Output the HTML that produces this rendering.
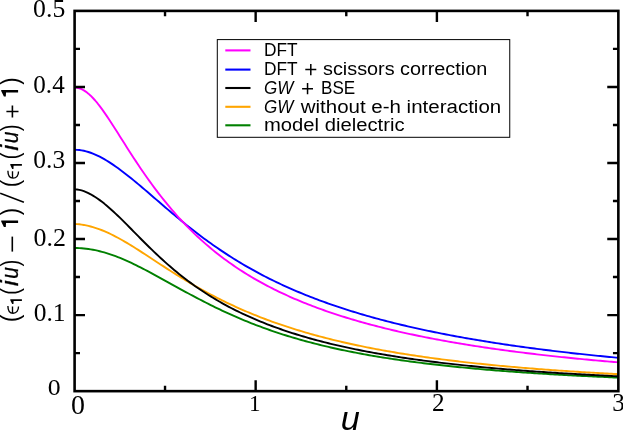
<!DOCTYPE html>
<html><head><meta charset="utf-8"><title>plot</title>
<style>
html,body{margin:0;padding:0;background:#fff;}
body{width:623px;height:431px;overflow:hidden;}
svg{display:block;}
.txt{filter:grayscale(1);}
.ser{font-family:"Liberation Serif",serif;fill:#000;}
.san{font-family:"Liberation Sans",sans-serif;fill:#000;}
</style></head><body>
<svg width="623" height="431" viewBox="0 0 623 431">
<rect x="0" y="0" width="623" height="431" fill="#fff"/>
<clipPath id="c"><rect x="74.6" y="10.9" width="543.75" height="380.25"/></clipPath>
<g clip-path="url(#c)" fill="none" stroke-width="1.9" stroke-linejoin="round">
<path d="M74.80,248.05 L77.06,248.07 L79.33,248.15 L81.59,248.29 L83.86,248.47 L86.12,248.71 L88.39,249.00 L90.66,249.35 L92.92,249.74 L95.19,250.18 L97.45,250.67 L99.72,251.21 L101.98,251.80 L104.25,252.43 L106.51,253.10 L108.78,253.82 L111.04,254.58 L113.31,255.37 L115.57,256.21 L117.84,257.08 L120.10,257.99 L122.37,258.93 L124.63,259.90 L126.90,260.90 L129.16,261.93 L131.43,262.98 L133.69,264.06 L135.96,265.16 L138.22,266.28 L140.49,267.42 L142.75,268.58 L145.01,269.76 L147.28,270.95 L149.55,272.15 L151.81,273.37 L154.07,274.59 L156.34,275.82 L158.61,277.06 L160.87,278.30 L163.14,279.55 L165.40,280.81 L167.67,282.06 L169.93,283.32 L172.19,284.57 L174.46,285.82 L176.73,287.07 L178.99,288.32 L181.25,289.57 L183.52,290.81 L185.79,292.04 L188.05,293.26 L190.32,294.48 L192.58,295.70 L194.85,296.90 L197.11,298.09 L199.38,299.28 L201.64,300.45 L203.91,301.62 L206.17,302.77 L208.44,303.92 L210.70,305.05 L212.97,306.17 L215.23,307.28 L217.50,308.37 L219.76,309.45 L222.03,310.52 L224.29,311.58 L226.56,312.63 L228.82,313.66 L231.09,314.68 L233.35,315.68 L235.62,316.68 L237.88,317.66 L240.15,318.62 L242.41,319.58 L244.68,320.52 L246.94,321.44 L249.21,322.36 L251.47,323.26 L253.74,324.14 L256.00,325.02 L258.26,325.88 L260.53,326.73 L262.80,327.57 L265.06,328.39 L267.32,329.20 L269.59,330.00 L271.86,330.79 L274.12,331.56 L276.39,332.33 L278.65,333.08 L280.92,333.82 L283.18,334.55 L285.45,335.26 L287.71,335.97 L289.98,336.66 L292.24,337.35 L294.51,338.02 L296.77,338.68 L299.04,339.34 L301.30,339.98 L303.57,340.61 L305.83,341.23 L308.10,341.84 L310.36,342.45 L312.62,343.04 L314.89,343.62 L317.16,344.20 L319.42,344.76 L321.69,345.32 L323.95,345.87 L326.22,346.40 L328.48,346.94 L330.75,347.46 L333.01,347.97 L335.28,348.48 L337.54,348.98 L339.81,349.47 L342.07,349.95 L344.34,350.42 L346.60,350.89 L348.87,351.35 L351.13,351.80 L353.40,352.25 L355.66,352.69 L357.93,353.12 L360.19,353.55 L362.46,353.97 L364.72,354.38 L366.99,354.79 L369.25,355.19 L371.52,355.58 L373.78,355.97 L376.05,356.35 L378.31,356.73 L380.58,357.10 L382.84,357.47 L385.11,357.83 L387.37,358.18 L389.64,358.53 L391.90,358.88 L394.17,359.22 L396.43,359.55 L398.70,359.88 L400.96,360.21 L403.23,360.52 L405.49,360.84 L407.76,361.15 L410.02,361.46 L412.29,361.76 L414.55,362.06 L416.82,362.35 L419.08,362.64 L421.35,362.92 L423.61,363.20 L425.88,363.48 L428.14,363.75 L430.41,364.02 L432.67,364.29 L434.94,364.55 L437.20,364.81 L439.47,365.06 L441.73,365.31 L444.00,365.56 L446.26,365.81 L448.53,366.05 L450.79,366.28 L453.06,366.52 L455.32,366.75 L457.59,366.98 L459.85,367.20 L462.12,367.42 L464.38,367.64 L466.65,367.86 L468.91,368.07 L471.18,368.28 L473.44,368.49 L475.71,368.70 L477.97,368.90 L480.24,369.10 L482.50,369.30 L484.77,369.49 L487.03,369.68 L489.30,369.87 L491.56,370.06 L493.83,370.24 L496.09,370.43 L498.36,370.61 L500.62,370.78 L502.89,370.96 L505.15,371.13 L507.42,371.30 L509.68,371.47 L511.95,371.64 L514.21,371.80 L516.48,371.97 L518.74,372.13 L521.01,372.29 L523.27,372.44 L525.54,372.60 L527.80,372.75 L530.07,372.90 L532.33,373.05 L534.60,373.20 L536.86,373.35 L539.12,373.49 L541.39,373.63 L543.66,373.78 L545.92,373.91 L548.19,374.05 L550.45,374.19 L552.72,374.32 L554.98,374.46 L557.25,374.59 L559.51,374.72 L561.77,374.84 L564.04,374.97 L566.31,375.10 L568.57,375.22 L570.84,375.34 L573.10,375.46 L575.37,375.58 L577.63,375.70 L579.90,375.82 L582.16,375.94 L584.43,376.05 L586.69,376.16 L588.96,376.28 L591.22,376.39 L593.49,376.50 L595.75,376.60 L598.01,376.71 L600.28,376.82 L602.55,376.92 L604.81,377.03 L607.08,377.13 L609.34,377.23 L611.61,377.33 L613.87,377.43 L616.14,377.53 L618.40,377.63" stroke="#008000"/>
<path d="M74.80,224.07 L77.06,224.13 L79.33,224.30 L81.59,224.58 L83.86,224.94 L86.12,225.39 L88.39,225.90 L90.66,226.47 L92.92,227.11 L95.19,227.81 L97.45,228.57 L99.72,229.38 L101.98,230.25 L104.25,231.17 L106.51,232.15 L108.78,233.18 L111.04,234.26 L113.31,235.38 L115.57,236.54 L117.84,237.75 L120.10,238.99 L122.37,240.26 L124.63,241.57 L126.90,242.91 L129.16,244.27 L131.43,245.65 L133.69,247.06 L135.96,248.48 L138.22,249.92 L140.49,251.37 L142.75,252.84 L145.01,254.31 L147.28,255.78 L149.55,257.27 L151.81,258.75 L154.07,260.24 L156.34,261.72 L158.61,263.20 L160.87,264.68 L163.14,266.15 L165.40,267.62 L167.67,269.08 L169.93,270.53 L172.19,271.98 L174.46,273.41 L176.73,274.83 L178.99,276.24 L181.25,277.64 L183.52,279.02 L185.79,280.39 L188.05,281.75 L190.32,283.09 L192.58,284.42 L194.85,285.74 L197.11,287.04 L199.38,288.32 L201.64,289.59 L203.91,290.84 L206.17,292.08 L208.44,293.30 L210.70,294.51 L212.97,295.70 L215.23,296.88 L217.50,298.04 L219.76,299.18 L222.03,300.31 L224.29,301.43 L226.56,302.53 L228.82,303.61 L231.09,304.68 L233.35,305.73 L235.62,306.77 L237.88,307.80 L240.15,308.81 L242.41,309.80 L244.68,310.78 L246.94,311.75 L249.21,312.70 L251.47,313.64 L253.74,314.57 L256.00,315.48 L258.26,316.38 L260.53,317.27 L262.80,318.14 L265.06,319.01 L267.32,319.85 L269.59,320.69 L271.86,321.52 L274.12,322.33 L276.39,323.13 L278.65,323.92 L280.92,324.70 L283.18,325.46 L285.45,326.22 L287.71,326.96 L289.98,327.70 L292.24,328.42 L294.51,329.14 L296.77,329.84 L299.04,330.53 L301.30,331.21 L303.57,331.89 L305.83,332.55 L308.10,333.20 L310.36,333.85 L312.62,334.48 L314.89,335.11 L317.16,335.73 L319.42,336.34 L321.69,336.94 L323.95,337.53 L326.22,338.11 L328.48,338.69 L330.75,339.25 L333.01,339.81 L335.28,340.36 L337.54,340.91 L339.81,341.44 L342.07,341.97 L344.34,342.49 L346.60,343.01 L348.87,343.51 L351.13,344.01 L353.40,344.51 L355.66,344.99 L357.93,345.47 L360.19,345.94 L362.46,346.41 L364.72,346.87 L366.99,347.32 L369.25,347.77 L371.52,348.21 L373.78,348.65 L376.05,349.08 L378.31,349.50 L380.58,349.92 L382.84,350.33 L385.11,350.74 L387.37,351.14 L389.64,351.54 L391.90,351.93 L394.17,352.31 L396.43,352.69 L398.70,353.07 L400.96,353.44 L403.23,353.80 L405.49,354.17 L407.76,354.52 L410.02,354.87 L412.29,355.22 L414.55,355.56 L416.82,355.90 L419.08,356.23 L421.35,356.56 L423.61,356.89 L425.88,357.21 L428.14,357.53 L430.41,357.84 L432.67,358.15 L434.94,358.45 L437.20,358.75 L439.47,359.05 L441.73,359.35 L444.00,359.64 L446.26,359.92 L448.53,360.20 L450.79,360.48 L453.06,360.76 L455.32,361.03 L457.59,361.30 L459.85,361.57 L462.12,361.83 L464.38,362.09 L466.65,362.34 L468.91,362.60 L471.18,362.85 L473.44,363.09 L475.71,363.34 L477.97,363.58 L480.24,363.81 L482.50,364.05 L484.77,364.28 L487.03,364.51 L489.30,364.74 L491.56,364.96 L493.83,365.18 L496.09,365.40 L498.36,365.62 L500.62,365.83 L502.89,366.04 L505.15,366.25 L507.42,366.46 L509.68,366.66 L511.95,366.86 L514.21,367.06 L516.48,367.26 L518.74,367.45 L521.01,367.64 L523.27,367.83 L525.54,368.02 L527.80,368.21 L530.07,368.39 L532.33,368.57 L534.60,368.75 L536.86,368.93 L539.12,369.11 L541.39,369.28 L543.66,369.45 L545.92,369.62 L548.19,369.79 L550.45,369.95 L552.72,370.12 L554.98,370.28 L557.25,370.44 L559.51,370.60 L561.77,370.76 L564.04,370.91 L566.31,371.07 L568.57,371.22 L570.84,371.37 L573.10,371.52 L575.37,371.66 L577.63,371.81 L579.90,371.95 L582.16,372.10 L584.43,372.24 L586.69,372.38 L588.96,372.52 L591.22,372.65 L593.49,372.79 L595.75,372.92 L598.01,373.05 L600.28,373.18 L602.55,373.31 L604.81,373.44 L607.08,373.57 L609.34,373.69 L611.61,373.82 L613.87,373.94 L616.14,374.06 L618.40,374.18" stroke="#ffa500"/>
<path d="M74.80,189.39 L77.06,189.51 L79.33,189.85 L81.59,190.40 L83.86,191.14 L86.12,192.05 L88.39,193.10 L90.66,194.29 L92.92,195.59 L95.19,197.01 L97.45,198.52 L99.72,200.13 L101.98,201.84 L104.25,203.62 L106.51,205.48 L108.78,207.42 L111.04,209.42 L113.31,211.47 L115.57,213.58 L117.84,215.74 L120.10,217.93 L122.37,220.16 L124.63,222.41 L126.90,224.68 L129.16,226.97 L131.43,229.27 L133.69,231.57 L135.96,233.87 L138.22,236.17 L140.49,238.46 L142.75,240.74 L145.01,243.00 L147.28,245.25 L149.55,247.48 L151.81,249.68 L154.07,251.86 L156.34,254.02 L158.61,256.14 L160.87,258.24 L163.14,260.31 L165.40,262.35 L167.67,264.35 L169.93,266.33 L172.19,268.27 L174.46,270.18 L176.73,272.06 L178.99,273.90 L181.25,275.71 L183.52,277.49 L185.79,279.24 L188.05,280.95 L190.32,282.63 L192.58,284.28 L194.85,285.90 L197.11,287.49 L199.38,289.05 L201.64,290.58 L203.91,292.07 L206.17,293.55 L208.44,294.99 L210.70,296.40 L212.97,297.79 L215.23,299.15 L217.50,300.48 L219.76,301.79 L222.03,303.08 L224.29,304.34 L226.56,305.57 L228.82,306.79 L231.09,307.97 L233.35,309.14 L235.62,310.29 L237.88,311.41 L240.15,312.51 L242.41,313.60 L244.68,314.66 L246.94,315.70 L249.21,316.72 L251.47,317.73 L253.74,318.72 L256.00,319.68 L258.26,320.64 L260.53,321.57 L262.80,322.49 L265.06,323.39 L267.32,324.27 L269.59,325.14 L271.86,326.00 L274.12,326.84 L276.39,327.66 L278.65,328.47 L280.92,329.27 L283.18,330.05 L285.45,330.82 L287.71,331.58 L289.98,332.32 L292.24,333.06 L294.51,333.77 L296.77,334.48 L299.04,335.18 L301.30,335.86 L303.57,336.53 L305.83,337.19 L308.10,337.84 L310.36,338.48 L312.62,339.11 L314.89,339.73 L317.16,340.34 L319.42,340.94 L321.69,341.53 L323.95,342.11 L326.22,342.68 L328.48,343.24 L330.75,343.80 L333.01,344.34 L335.28,344.88 L337.54,345.40 L339.81,345.92 L342.07,346.44 L344.34,346.94 L346.60,347.44 L348.87,347.92 L351.13,348.40 L353.40,348.88 L355.66,349.34 L357.93,349.80 L360.19,350.26 L362.46,350.70 L364.72,351.14 L366.99,351.57 L369.25,352.00 L371.52,352.42 L373.78,352.83 L376.05,353.24 L378.31,353.64 L380.58,354.04 L382.84,354.43 L385.11,354.81 L387.37,355.19 L389.64,355.56 L391.90,355.93 L394.17,356.29 L396.43,356.65 L398.70,357.00 L400.96,357.35 L403.23,357.69 L405.49,358.03 L407.76,358.37 L410.02,358.69 L412.29,359.02 L414.55,359.34 L416.82,359.65 L419.08,359.96 L421.35,360.27 L423.61,360.57 L425.88,360.87 L428.14,361.16 L430.41,361.45 L432.67,361.74 L434.94,362.02 L437.20,362.30 L439.47,362.57 L441.73,362.85 L444.00,363.11 L446.26,363.38 L448.53,363.64 L450.79,363.89 L453.06,364.15 L455.32,364.40 L457.59,364.65 L459.85,364.89 L462.12,365.13 L464.38,365.37 L466.65,365.60 L468.91,365.83 L471.18,366.06 L473.44,366.29 L475.71,366.51 L477.97,366.73 L480.24,366.95 L482.50,367.16 L484.77,367.37 L487.03,367.58 L489.30,367.79 L491.56,367.99 L493.83,368.20 L496.09,368.39 L498.36,368.59 L500.62,368.78 L502.89,368.98 L505.15,369.17 L507.42,369.35 L509.68,369.54 L511.95,369.72 L514.21,369.90 L516.48,370.08 L518.74,370.25 L521.01,370.43 L523.27,370.60 L525.54,370.77 L527.80,370.94 L530.07,371.10 L532.33,371.27 L534.60,371.43 L536.86,371.59 L539.12,371.75 L541.39,371.91 L543.66,372.06 L545.92,372.21 L548.19,372.36 L550.45,372.51 L552.72,372.66 L554.98,372.81 L557.25,372.95 L559.51,373.09 L561.77,373.23 L564.04,373.37 L566.31,373.51 L568.57,373.65 L570.84,373.78 L573.10,373.92 L575.37,374.05 L577.63,374.18 L579.90,374.31 L582.16,374.43 L584.43,374.56 L586.69,374.69 L588.96,374.81 L591.22,374.93 L593.49,375.05 L595.75,375.17 L598.01,375.29 L600.28,375.41 L602.55,375.52 L604.81,375.64 L607.08,375.75 L609.34,375.86 L611.61,375.97 L613.87,376.08 L616.14,376.19 L618.40,376.30" stroke="#000000"/>
<path d="M74.80,149.81 L77.06,149.87 L79.33,150.06 L81.59,150.37 L83.86,150.79 L86.12,151.33 L88.39,151.98 L90.66,152.74 L92.92,153.60 L95.19,154.55 L97.45,155.58 L99.72,156.70 L101.98,157.90 L104.25,159.17 L106.51,160.51 L108.78,161.91 L111.04,163.37 L113.31,164.88 L115.57,166.44 L117.84,168.05 L120.10,169.71 L122.37,171.40 L124.63,173.14 L126.90,174.90 L129.16,176.70 L131.43,178.52 L133.69,180.37 L135.96,182.24 L138.22,184.13 L140.49,186.04 L142.75,187.95 L145.01,189.89 L147.28,191.83 L149.55,193.77 L151.81,195.73 L154.07,197.68 L156.34,199.64 L158.61,201.59 L160.87,203.54 L163.14,205.49 L165.40,207.43 L167.67,209.36 L169.93,211.28 L172.19,213.20 L174.46,215.10 L176.73,216.99 L178.99,218.86 L181.25,220.73 L183.52,222.57 L185.79,224.40 L188.05,226.22 L190.32,228.01 L192.58,229.79 L194.85,231.55 L197.11,233.29 L199.38,235.02 L201.64,236.72 L203.91,238.40 L206.17,240.07 L208.44,241.71 L210.70,243.34 L212.97,244.94 L215.23,246.53 L217.50,248.09 L219.76,249.63 L222.03,251.16 L224.29,252.66 L226.56,254.14 L228.82,255.61 L231.09,257.05 L233.35,258.48 L235.62,259.88 L237.88,261.27 L240.15,262.64 L242.41,263.98 L244.68,265.31 L246.94,266.63 L249.21,267.92 L251.47,269.19 L253.74,270.45 L256.00,271.69 L258.26,272.91 L260.53,274.12 L262.80,275.31 L265.06,276.48 L267.32,277.64 L269.59,278.78 L271.86,279.90 L274.12,281.01 L276.39,282.10 L278.65,283.18 L280.92,284.24 L283.18,285.29 L285.45,286.33 L287.71,287.35 L289.98,288.36 L292.24,289.35 L294.51,290.33 L296.77,291.30 L299.04,292.25 L301.30,293.19 L303.57,294.12 L305.83,295.03 L308.10,295.94 L310.36,296.83 L312.62,297.71 L314.89,298.58 L317.16,299.44 L319.42,300.28 L321.69,301.12 L323.95,301.95 L326.22,302.76 L328.48,303.56 L330.75,304.36 L333.01,305.14 L335.28,305.92 L337.54,306.68 L339.81,307.43 L342.07,308.18 L344.34,308.92 L346.60,309.64 L348.87,310.36 L351.13,311.07 L353.40,311.77 L355.66,312.46 L357.93,313.15 L360.19,313.82 L362.46,314.49 L364.72,315.15 L366.99,315.80 L369.25,316.45 L371.52,317.08 L373.78,317.71 L376.05,318.33 L378.31,318.95 L380.58,319.55 L382.84,320.15 L385.11,320.75 L387.37,321.33 L389.64,321.91 L391.90,322.49 L394.17,323.05 L396.43,323.61 L398.70,324.17 L400.96,324.71 L403.23,325.25 L405.49,325.79 L407.76,326.32 L410.02,326.84 L412.29,327.36 L414.55,327.87 L416.82,328.38 L419.08,328.88 L421.35,329.37 L423.61,329.86 L425.88,330.35 L428.14,330.83 L430.41,331.30 L432.67,331.77 L434.94,332.23 L437.20,332.69 L439.47,333.15 L441.73,333.60 L444.00,334.04 L446.26,334.48 L448.53,334.92 L450.79,335.35 L453.06,335.77 L455.32,336.20 L457.59,336.61 L459.85,337.03 L462.12,337.43 L464.38,337.84 L466.65,338.24 L468.91,338.63 L471.18,339.03 L473.44,339.41 L475.71,339.80 L477.97,340.18 L480.24,340.56 L482.50,340.93 L484.77,341.30 L487.03,341.66 L489.30,342.02 L491.56,342.38 L493.83,342.74 L496.09,343.09 L498.36,343.43 L500.62,343.78 L502.89,344.12 L505.15,344.45 L507.42,344.79 L509.68,345.12 L511.95,345.45 L514.21,345.77 L516.48,346.09 L518.74,346.41 L521.01,346.72 L523.27,347.03 L525.54,347.34 L527.80,347.65 L530.07,347.95 L532.33,348.25 L534.60,348.55 L536.86,348.84 L539.12,349.13 L541.39,349.42 L543.66,349.71 L545.92,349.99 L548.19,350.27 L550.45,350.55 L552.72,350.83 L554.98,351.10 L557.25,351.37 L559.51,351.64 L561.77,351.90 L564.04,352.16 L566.31,352.42 L568.57,352.68 L570.84,352.94 L573.10,353.19 L575.37,353.44 L577.63,353.69 L579.90,353.93 L582.16,354.18 L584.43,354.42 L586.69,354.66 L588.96,354.90 L591.22,355.13 L593.49,355.37 L595.75,355.60 L598.01,355.83 L600.28,356.05 L602.55,356.28 L604.81,356.50 L607.08,356.72 L609.34,356.94 L611.61,357.16 L613.87,357.37 L616.14,357.59 L618.40,357.80" stroke="#0000ff"/>
<path d="M74.80,87.67 L77.06,87.84 L79.33,88.36 L81.59,89.21 L83.86,90.38 L86.12,91.87 L88.39,93.64 L90.66,95.69 L92.92,97.99 L95.19,100.51 L97.45,103.23 L99.72,106.13 L101.98,109.18 L104.25,112.36 L106.51,115.65 L108.78,119.03 L111.04,122.48 L113.31,125.99 L115.57,129.53 L117.84,133.10 L120.10,136.68 L122.37,140.26 L124.63,143.84 L126.90,147.40 L129.16,150.94 L131.43,154.46 L133.69,157.94 L135.96,161.39 L138.22,164.79 L140.49,168.16 L142.75,171.48 L145.01,174.75 L147.28,177.98 L149.55,181.16 L151.81,184.28 L154.07,187.36 L156.34,190.38 L158.61,193.35 L160.87,196.27 L163.14,199.14 L165.40,201.95 L167.67,204.72 L169.93,207.43 L172.19,210.09 L174.46,212.71 L176.73,215.27 L178.99,217.78 L181.25,220.25 L183.52,222.66 L185.79,225.03 L188.05,227.36 L190.32,229.64 L192.58,231.87 L194.85,234.06 L197.11,236.21 L199.38,238.31 L201.64,240.38 L203.91,242.40 L206.17,244.39 L208.44,246.33 L210.70,248.24 L212.97,250.11 L215.23,251.94 L217.50,253.74 L219.76,255.50 L222.03,257.23 L224.29,258.93 L226.56,260.60 L228.82,262.23 L231.09,263.83 L233.35,265.40 L235.62,266.95 L237.88,268.46 L240.15,269.95 L242.41,271.40 L244.68,272.84 L246.94,274.24 L249.21,275.62 L251.47,276.98 L253.74,278.31 L256.00,279.62 L258.26,280.91 L260.53,282.17 L262.80,283.41 L265.06,284.63 L267.32,285.83 L269.59,287.01 L271.86,288.17 L274.12,289.31 L276.39,290.43 L278.65,291.53 L280.92,292.61 L283.18,293.68 L285.45,294.73 L287.71,295.76 L289.98,296.77 L292.24,297.77 L294.51,298.76 L296.77,299.72 L299.04,300.68 L301.30,301.62 L303.57,302.54 L305.83,303.45 L308.10,304.35 L310.36,305.23 L312.62,306.10 L314.89,306.95 L317.16,307.80 L319.42,308.63 L321.69,309.45 L323.95,310.26 L326.22,311.05 L328.48,311.84 L330.75,312.61 L333.01,313.37 L335.28,314.12 L337.54,314.87 L339.81,315.60 L342.07,316.32 L344.34,317.03 L346.60,317.73 L348.87,318.42 L351.13,319.10 L353.40,319.78 L355.66,320.44 L357.93,321.10 L360.19,321.74 L362.46,322.38 L364.72,323.01 L366.99,323.63 L369.25,324.25 L371.52,324.85 L373.78,325.45 L376.05,326.04 L378.31,326.63 L380.58,327.20 L382.84,327.77 L385.11,328.33 L387.37,328.89 L389.64,329.43 L391.90,329.97 L394.17,330.51 L396.43,331.03 L398.70,331.56 L400.96,332.07 L403.23,332.58 L405.49,333.08 L407.76,333.58 L410.02,334.07 L412.29,334.55 L414.55,335.03 L416.82,335.50 L419.08,335.97 L421.35,336.43 L423.61,336.89 L425.88,337.34 L428.14,337.79 L430.41,338.23 L432.67,338.67 L434.94,339.10 L437.20,339.52 L439.47,339.94 L441.73,340.36 L444.00,340.77 L446.26,341.18 L448.53,341.58 L450.79,341.98 L453.06,342.37 L455.32,342.76 L457.59,343.15 L459.85,343.53 L462.12,343.91 L464.38,344.28 L466.65,344.65 L468.91,345.01 L471.18,345.37 L473.44,345.73 L475.71,346.08 L477.97,346.43 L480.24,346.77 L482.50,347.11 L484.77,347.45 L487.03,347.79 L489.30,348.12 L491.56,348.44 L493.83,348.77 L496.09,349.09 L498.36,349.40 L500.62,349.72 L502.89,350.03 L505.15,350.34 L507.42,350.64 L509.68,350.94 L511.95,351.24 L514.21,351.53 L516.48,351.82 L518.74,352.11 L521.01,352.40 L523.27,352.68 L525.54,352.96 L527.80,353.24 L530.07,353.51 L532.33,353.78 L534.60,354.05 L536.86,354.32 L539.12,354.58 L541.39,354.84 L543.66,355.10 L545.92,355.36 L548.19,355.61 L550.45,355.86 L552.72,356.11 L554.98,356.35 L557.25,356.60 L559.51,356.84 L561.77,357.08 L564.04,357.31 L566.31,357.55 L568.57,357.78 L570.84,358.01 L573.10,358.23 L575.37,358.46 L577.63,358.68 L579.90,358.90 L582.16,359.12 L584.43,359.34 L586.69,359.55 L588.96,359.76 L591.22,359.97 L593.49,360.18 L595.75,360.39 L598.01,360.59 L600.28,360.80 L602.55,361.00 L604.81,361.20 L607.08,361.39 L609.34,361.59 L611.61,361.78 L613.87,361.97 L616.14,362.16 L618.40,362.35" stroke="#ff00ff"/>
</g>
<path d="M255.65,391.15 v-10.9 M255.65,10.9 v11.2 M436.90,391.15 v-10.9 M436.90,10.9 v11.2 M165.03,391.15 v-5.4 M165.03,10.9 v5.4 M346.28,391.15 v-5.4 M346.28,10.9 v5.4 M527.52,391.15 v-5.4 M527.52,10.9 v5.4 M74.6,353.12 h5.4 M618.35,353.12 h-5.4 M74.6,315.10 h10.4 M618.35,315.10 h-11.1 M74.6,277.07 h5.4 M618.35,277.07 h-5.4 M74.6,239.05 h10.4 M618.35,239.05 h-11.1 M74.6,201.02 h5.4 M618.35,201.02 h-5.4 M74.6,163.00 h10.4 M618.35,163.00 h-11.1 M74.6,124.97 h5.4 M618.35,124.97 h-5.4 M74.6,86.95 h10.4 M618.35,86.95 h-11.1 M74.6,48.92 h5.4 M618.35,48.92 h-5.4" stroke="#000" stroke-width="2.4" fill="none"/>
<rect x="74.6" y="10.9" width="543.75" height="380.25" fill="none" stroke="#000" stroke-width="2.6"/>
<g class="txt">
<text class="ser" transform="matrix(1.0945,0,0,1.0603,33.105,16.735)" font-size="23.5">0.5</text>
<text class="ser" transform="matrix(1.0679,0,0,1.0540,33.332,93.237)" font-size="23.5">0.4</text>
<text class="ser" transform="matrix(1.0873,0,0,1.0730,33.313,167.632)" font-size="23.5">0.3</text>
<text class="ser" transform="matrix(1.1037,0,0,1.0540,33.496,245.637)" font-size="23.5">0.2</text>
<text class="ser" transform="matrix(1.0852,0,0,1.0603,33.715,321.335)" font-size="23.5">0.1</text>
<text class="ser" transform="matrix(1.0974,0,0,1.0159,47.803,394.946)" font-size="23.5">0</text>
<text class="ser" transform="matrix(1.0348,0,0,1.0301,71.065,413.542)" font-size="27">0</text>
<text class="ser" transform="matrix(0.9818,0,0,1.0065,248.936,411.200)" font-size="23.5">1</text>
<text class="ser" transform="matrix(1.0737,0,0,1.0323,431.926,410.800)" font-size="23.5">2</text>
<text class="ser" transform="matrix(1.0632,0,0,1.0603,612.371,410.735)" font-size="23.5">3</text>
<text class="san" transform="matrix(0.9797,0,0,0.9707,340.630,429.657)" font-size="35" font-style="italic">u</text>
<text class="san" transform="matrix(0,-0.9120,1.0562,0,18.819,322.068)" font-size="24">(</text>
<text class="san" transform="matrix(0,-0.8320,1.0562,0,18.819,294.748)" font-size="24">(</text>
<text class="san" transform="matrix(0,-1.1048,0.9913,0,18.100,286.252)" font-size="24" font-style="italic" stroke="#000" stroke-width="0.3">i</text>
<text class="san" transform="matrix(0,-0.8681,1.0154,0,18.046,278.768)" font-size="24" font-style="italic" stroke="#000" stroke-width="0.3">u</text>
<text class="san" transform="matrix(0,-0.8560,1.0562,0,18.819,266.614)" font-size="24">)</text>
<text class="san" transform="matrix(0,-0.9120,1.0562,0,18.819,215.128)" font-size="24">)</text>
<text class="san" transform="matrix(0,-0.9280,1.0562,0,18.819,187.292)" font-size="24">(</text>
<text class="san" transform="matrix(0,-0.8320,1.0562,0,18.819,159.348)" font-size="24">(</text>
<text class="san" transform="matrix(0,-1.1048,0.9913,0,18.100,150.852)" font-size="24" font-style="italic" stroke="#000" stroke-width="0.3">i</text>
<text class="san" transform="matrix(0,-0.8681,1.0154,0,18.046,143.368)" font-size="24" font-style="italic" stroke="#000" stroke-width="0.3">u</text>
<text class="san" transform="matrix(0,-0.8560,1.0562,0,18.819,131.214)" font-size="24">)</text>
<text class="san" transform="matrix(0,-0.9280,1.0562,0,18.819,84.732)" font-size="24">)</text>
<path d="M1.2,90.1 H18.1 V92.4 H6.02 L5.80,96.4 H3.90 L1.2,91.10 Z" fill="#000"/>
<path d="M1.2,220.6 H18.1 V222.9 H6.02 L5.80,226.9 H3.90 L1.2,221.60 Z" fill="#000"/>
<path d="M10.3,164.1 H21.9 V165.8 H13.61 L13.46,168.9 H12.16 L10.3,165.10 Z" fill="#000"/>
<path d="M10.3,299.29999999999995 H21.9 V301.0 H13.61 L13.46,304.1 H12.16 L10.3,300.30 Z" fill="#000"/>
<path d="M7.9,170.80 C7.9,176.00 10,178.10 13.1,178.10 C16.4,178.10 18.6,175.60 18.5,171.50 M12.5,171.30 V177.60" fill="none" stroke="#000" stroke-width="1.35"/>
<path d="M7.9,305.90 C7.9,311.10 10,313.20 13.1,313.20 C16.4,313.20 18.6,310.70 18.5,306.60 M12.5,306.40 V312.70" fill="none" stroke="#000" stroke-width="1.35"/>
<path d="M12.3,236.6 V251.6" fill="none" stroke="#000" stroke-width="1.6"/>
<path d="M12.4,105.4 V117.5 M6.4,111.45 H18.5" fill="none" stroke="#000" stroke-width="1.6"/>
<path d="M0.2,193.2 L23.9,202.2" fill="none" stroke="#000" stroke-width="1.5"/>
</g>
<rect x="217.3" y="39.6" width="292.45" height="97.7" fill="#fff" stroke="#000" stroke-width="1"/>
<path d="M225.3,50.4 H250.5" stroke="#ff00ff" stroke-width="2.1" fill="none"/>
<path d="M225.3,69.6 H250.5" stroke="#0000ff" stroke-width="2.1" fill="none"/>
<path d="M225.3,88.0 H250.5" stroke="#000000" stroke-width="2.1" fill="none"/>
<path d="M225.3,106.8 H250.5" stroke="#ffa500" stroke-width="2.1" fill="none"/>
<path d="M225.3,125.3 H250.5" stroke="#008000" stroke-width="2.1" fill="none"/>
<g class="txt">
<text class="san" x="264" y="55.70" font-size="18.0" textLength="33.6" lengthAdjust="spacingAndGlyphs">DFT</text>
<text class="san" x="264" y="75.20" font-size="18.0" textLength="33.6" lengthAdjust="spacingAndGlyphs">DFT</text>
<text class="san" x="323.0" y="75.20" font-size="18.0" textLength="164.2" lengthAdjust="spacingAndGlyphs">scissors correction</text>
<text class="san" x="264" y="94.00" font-size="18.0" font-style="italic" textLength="29.4" lengthAdjust="spacingAndGlyphs">GW</text>
<text class="san" x="321.0" y="94.00" font-size="18.0" textLength="34.2" lengthAdjust="spacingAndGlyphs">BSE</text>
<text class="san" x="264" y="112.70" font-size="18.0" font-style="italic" textLength="29.4" lengthAdjust="spacingAndGlyphs">GW</text>
<text class="san" x="300.7" y="112.70" font-size="18.0" textLength="200.5" lengthAdjust="spacingAndGlyphs">without e-h interaction</text>
<text class="san" x="264" y="131.10" font-size="18.0" textLength="140.5" lengthAdjust="spacingAndGlyphs">model dielectric</text>
<path d="M302.1,88.65 H313.0 M307.55,83.0 V94.3 M305.3,69.6 H316.3 M310.8,63.9 V75.3" stroke="#000" stroke-width="1.5" fill="none"/>
</g>
</svg></body></html>
